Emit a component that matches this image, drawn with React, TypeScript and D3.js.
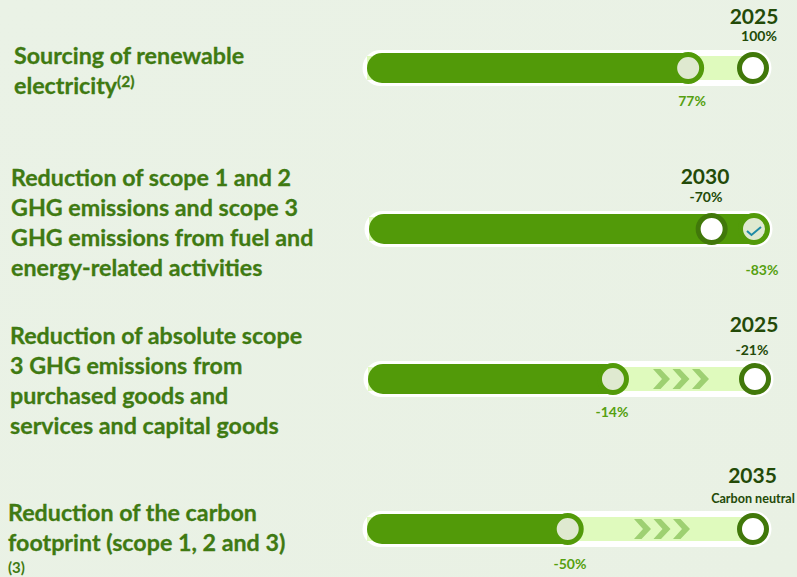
import React from "react";
import * as d3 from "d3";

// ---- data ----
const years = ["2025", "2030", "2025", "2035"];
const targetLabels = ["100%", "-70%", "-21%", "Carbon neutral"];
const achievedLabels = ["77%", "-83%", "-14%", "-50%"];
// share of the progress track (0 to 100) at which each marker sits
const achievedProgress = [83.2, 100, 63.3, 52];
const targetProgress = [100, 89, 100, 100];
const chevronCounts = [0, 0, 3, 3];
const descriptions = [
  ["Sourcing of renewable", "electricity"],
  ["Reduction of scope 1 and 2", "GHG emissions and scope 3", "GHG emissions from fuel and", "energy-related activities"],
  ["Reduction of absolute scope", "3 GHG emissions from", "purchased goods and", "services and capital goods"],
  ["Reduction of the carbon", "footprint (scope 1, 2 and 3)"],
];

// ---- layout ----
const W = 797;
const H = 577;
const rowCy = [68, 229, 379, 529];
const trackX0 = [367, 369, 368, 367];
const trackX1 = [753, 754, 755, 753];
const textX = [14, 11, 10, 8];
const textBase = [64, 186, 344, 521];
const yearPos = [[754, 24], [705, 184], [754, 332], [752.5, 483]];
const targetPos = [[759, 41], [706, 202], [752, 355], [753, 503]];
const achievedPos = [[692, 106], [762, 275], [612, 417], [570, 569]];
const chevronStart = [0, 0, 653, 634];

const FONT = "Lato, Carlito, sans-serif";
const DARK = "#529a09";
const RING = "#41780a";
const LIGHT = "#dffabd";
const PALE = "#dfe9d0";
const LABEL = "#3f7a12";
const HEAD = "#234a08";
const VALUE = "#55a00f";
const CHEV = "#9ed072";

function Chevron({ x, cy }: { x: number; cy: number }) {
  const p = d3.path();
  p.moveTo(x, cy - 10);
  p.lineTo(x + 7.5, cy - 10);
  p.lineTo(x + 17, cy);
  p.lineTo(x + 7.5, cy + 10);
  p.lineTo(x, cy + 10);
  p.lineTo(x + 9, cy);
  p.closePath();
  return <path d={p.toString()} fill={CHEV} />;
}

export default function App() {
  return (
    <svg
      width={W}
      height={H}
      viewBox={`0 0 ${W} ${H}`}
      style={{ position: "fixed", left: 0, top: 0, display: "block" }}
      fontFamily={FONT}
    >
      <defs>
        <linearGradient id="bg" x1="0" y1="0" x2="1" y2="1">
          <stop offset="0" stopColor="#eaf2e6" />
          <stop offset="1" stopColor="#e9f1e4" />
        </linearGradient>
      </defs>
      <rect width={W} height={H} fill="url(#bg)" />
      {rowCy.map((cy, i) => {
        const x = d3.scaleLinear().domain([0, 100]).range([trackX0[i], trackX1[i]]);
        const ax = x(achievedProgress[i]);
        const tx = x(targetProgress[i]);
        const outerL = trackX0[i] - 4.5;
        const outerR = trackX1[i] + 18.5;
        return (
          <g key={i}>
            {descriptions[i].map((line, j) => (
              <text
                key={j}
                x={textX[i]}
                y={textBase[i] + j * 30}
                fontSize={23.25}
                fontWeight={700}
                fill={LABEL}
                stroke={LABEL}
                strokeWidth={0.3}
              >
                {line}
                {i === 0 && j === 1 ? (
                  <tspan fontSize={15.5} dy={-7}>(2)</tspan>
                ) : null}
              </text>
            ))}
            {i === 3 ? (
              <text x={8} y={573} fontSize={15} fontWeight={700} fill={LABEL}>(3)</text>
            ) : null}

            <rect x={outerL} y={cy - 18} width={outerR - outerL} height={36} rx={18} fill="#fff" />
            <rect x={trackX0[i]} y={cy - 12} width={trackX1[i] - trackX0[i]} height={24} fill={LIGHT} />
            <path
              d={`M${ax},${cy - 15}H${trackX0[i] + 15}A15,15 0 0 0 ${trackX0[i] + 15},${cy + 15}H${ax}Z`}
              fill={DARK}
            />
            {d3.range(chevronCounts[i]).map((k) => (
              <Chevron key={k} x={chevronStart[i] + k * 19.5} cy={cy} />
            ))}

            <circle cx={ax} cy={cy} r={13.5} fill={PALE} stroke={DARK} strokeWidth={5} />
            {i === 1 ? (
              <path
                d={`M${ax - 7},${cy + 2}L${ax - 2.5},${cy + 6}L${ax + 7},${cy - 2}`}
                fill="none"
                stroke="#1f8aa5"
                strokeWidth={2}
              />
            ) : null}
            <circle cx={tx} cy={cy} r={13.5} fill="#fff" stroke={RING} strokeWidth={5} />

            <text x={yearPos[i][0]} y={yearPos[i][1]} textAnchor="middle" fontSize={21} fontWeight={700} fill={HEAD}>
              {years[i]}
            </text>
            <text
              x={targetPos[i][0]}
              y={targetPos[i][1]}
              textAnchor="middle"
              fontSize={i === 3 ? 12.6 : 14}
              fontWeight={700}
              fill={HEAD}
            >
              {targetLabels[i]}
            </text>
            <text x={achievedPos[i][0]} y={achievedPos[i][1]} textAnchor="middle" fontSize={14} fontWeight={700} fill={VALUE}>
              {achievedLabels[i]}
            </text>
          </g>
        );
      })}
    </svg>
  );
}
